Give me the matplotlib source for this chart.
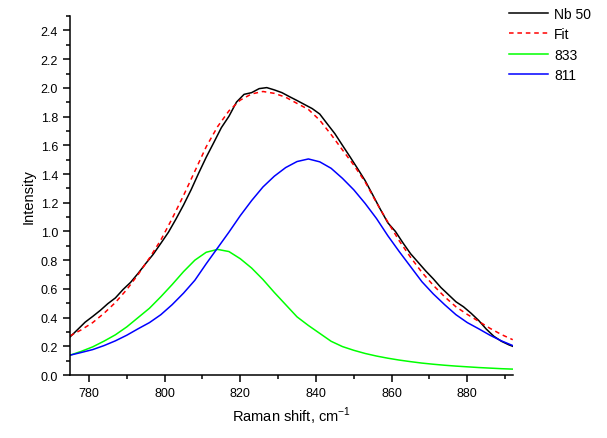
import matplotlib
matplotlib.use('Agg')
import matplotlib.pyplot as plt
from matplotlib.ticker import MultipleLocator

plt.rcParams['font.family'] = ['Liberation Sans', 'DejaVu Sans']

# Measured spectrum (Nb 50)
shift_data = list(range(775, 893, 2)) + [892]
nb50 = [0.265, 0.316, 0.368, 0.408, 0.45, 0.497, 0.537, 0.595, 0.645, 0.708,
        0.776, 0.841, 0.917, 0.994, 1.086, 1.184, 1.29, 1.406, 1.517, 1.619,
        1.723, 1.802, 1.901, 1.955, 1.967, 1.995, 2.002, 1.986, 1.967, 1.939,
        1.912, 1.884, 1.856, 1.818, 1.749, 1.681, 1.60, 1.52, 1.438, 1.354,
        1.255, 1.155, 1.06, 1.0, 0.92, 0.845, 0.785, 0.725, 0.67, 0.61,
        0.56, 0.51, 0.475, 0.43, 0.38, 0.32, 0.27, 0.235, 0.21, 0.2]

# Fit and components
shift_fit = list(range(775, 893, 3))
fit = [0.272, 0.315, 0.365, 0.430, 0.505, 0.595, 0.700, 0.815, 0.940, 1.090,
       1.250, 1.420, 1.590, 1.730, 1.840, 1.915, 1.958, 1.975, 1.962, 1.935,
       1.892, 1.850, 1.775, 1.675, 1.568, 1.462, 1.345, 1.200, 1.065, 0.935,
       0.820, 0.715, 0.625, 0.545, 0.475, 0.422, 0.374, 0.325, 0.282, 0.246]
peak_833 = [0.138, 0.165, 0.196, 0.236, 0.280, 0.335, 0.400, 0.465, 0.545, 0.630,
            0.720, 0.800, 0.855, 0.875, 0.860, 0.810, 0.745, 0.665, 0.575, 0.490,
            0.405, 0.345, 0.290, 0.235, 0.198, 0.172, 0.150, 0.132, 0.117, 0.104,
            0.093, 0.083, 0.075, 0.068, 0.062, 0.057, 0.052, 0.048, 0.044, 0.041]
peak_811 = [0.138, 0.157, 0.177, 0.205, 0.238, 0.277, 0.322, 0.365, 0.420, 0.490,
            0.570, 0.660, 0.775, 0.885, 0.995, 1.110, 1.215, 1.310, 1.385, 1.445,
            1.487, 1.505, 1.485, 1.440, 1.370, 1.290, 1.195, 1.090, 0.970, 0.860,
            0.755, 0.650, 0.565, 0.490, 0.420, 0.365, 0.322, 0.277, 0.238, 0.205]

fig = plt.figure(figsize=(6.07, 4.39), dpi=100)
ax = fig.add_axes([0.1153, 0.1435, 0.7294, 0.8175])

ax.plot(shift_data, nb50, color='black', lw=1.1, label='Nb 50')
ax.plot(shift_fit, fit, color='red', lw=1.1, ls=(0, (3, 2.5)), label='Fit')
ax.plot(shift_fit, peak_833, color='#00ff00', lw=1.1, label='833')
ax.plot(shift_fit, peak_811, color='blue', lw=1.1, label='811')

ax.set_xlim(775, 892)
ax.set_ylim(0, 2.5)
ax.xaxis.set_major_locator(MultipleLocator(20))
ax.xaxis.set_minor_locator(MultipleLocator(10))
ax.yaxis.set_minor_locator(MultipleLocator(0.1))
ax.set_yticks([i * 0.2 for i in range(13)])
ax.yaxis.set_major_formatter(plt.FuncFormatter(lambda v, p: '%.1f' % v))

for s in ['top', 'right']:
    ax.spines[s].set_visible(False)
for s in ['left', 'bottom']:
    ax.spines[s].set_linewidth(1.1)
ax.tick_params(which='major', direction='out', length=5, width=1.1, labelsize=9)
ax.tick_params(which='minor', direction='out', length=3, width=1.1)

ax.set_xlabel('Raman shift, cm$^{\\mathregular{-1}}$', fontsize=10.5)
ax.set_ylabel('Intensity', fontsize=10.5)

fig.legend(loc='upper left', bbox_to_anchor=(0.818, 1.01), frameon=False,
           fontsize=10, handlelength=2.8, handletextpad=0.45, labelspacing=0.45)

fig.savefig('out.png', dpi=100)
